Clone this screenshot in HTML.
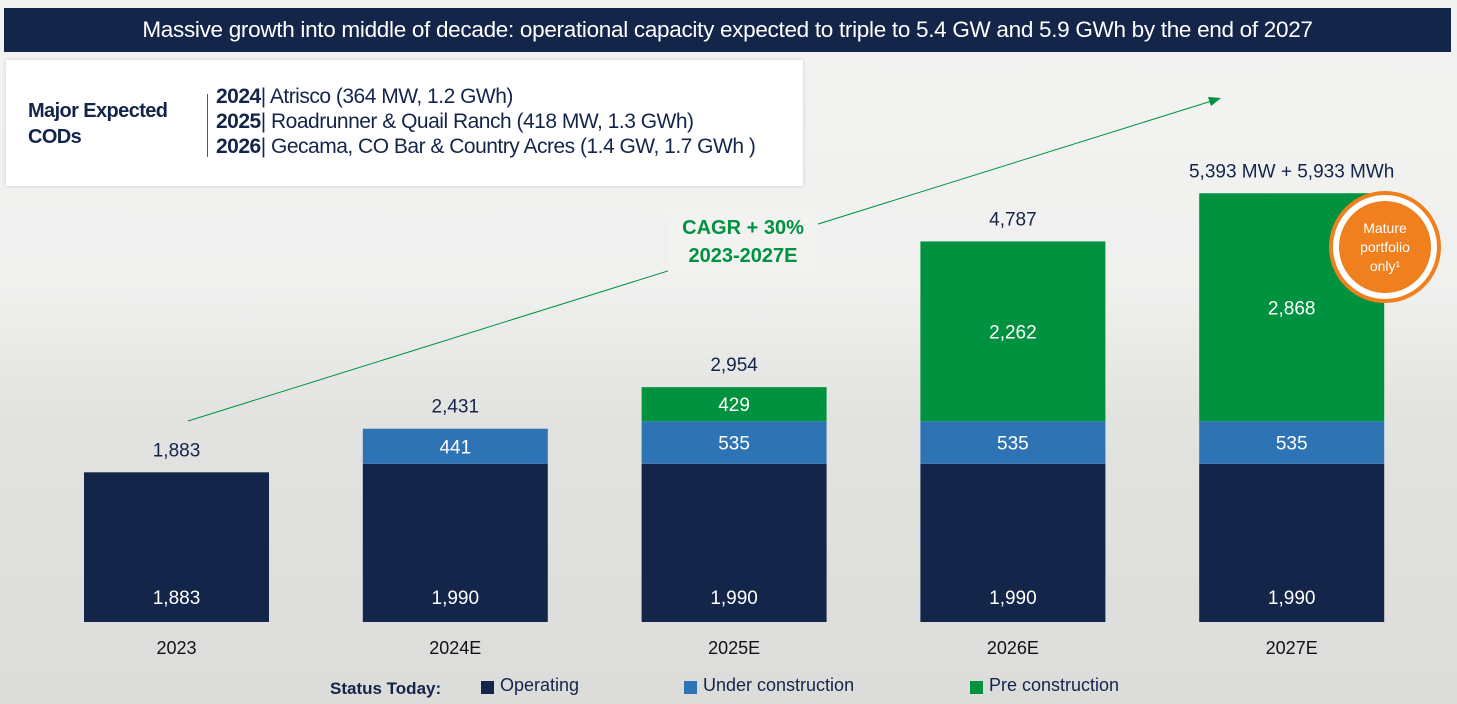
<!DOCTYPE html>
<html><head><meta charset="utf-8">
<style>
body{margin:0;width:1457px;height:704px;overflow:hidden;font-family:"Liberation Sans",sans-serif;}
#bg{position:absolute;left:0;top:0;width:1457px;height:704px;background:linear-gradient(180deg,#f3f3f2 0%,#f0f0ef 40%,#e2e2e0 60%,#dcdcda 100%);}
#title{position:absolute;left:4px;top:8px;width:1447px;height:44px;background:#14254a;color:#fff;font-size:22.5px;line-height:44px;text-align:center;letter-spacing:-0.3px;}
#cods{position:absolute;left:6px;top:60px;width:797px;height:126px;background:#fff;box-shadow:0 0 4px rgba(0,0,0,.15);color:#14254a;}
.t{position:absolute;white-space:nowrap;}
</style></head><body>
<div id="bg"></div>
<div id="title">Massive growth into middle of decade: operational capacity expected to triple to 5.4 GW and 5.9 GWh by the end of 2027</div>
<div id="cods">
 <div class="t" style="left:22px;top:38px;font-size:20px;font-weight:bold;line-height:26px;letter-spacing:-0.6px">Major Expected<br>CODs</div>
 <div style="position:absolute;left:201px;top:34px;width:1px;height:63px;background:#555"></div>
 <div class="t" style="left:210px;top:24px;font-size:21px;line-height:25px;letter-spacing:-0.5px">
  <b>2024</b>| Atrisco (364 MW, 1.2 GWh)<br><b>2025</b>| Roadrunner &amp; Quail Ranch (418 MW, 1.3 GWh)<br><b>2026</b>| Gecama, CO Bar &amp; Country Acres (1.4 GW, 1.7 GWh )</div>
</div>
<svg id="chart" width="1457" height="704" style="position:absolute;left:0;top:0"></svg>
<script>
const categories=["2023","2024E","2025E","2026E","2027E"];
const operating=[1883,1990,1990,1990,1990];
const underConstruction=[0,441,535,535,535];
const preConstruction=[0,0,429,2262,2868];
const totalLabels=["1,883","2,431","2,954","4,787","5,393 MW + 5,933 MWh"];
const colors={op:"#14254a",uc:"#2e74b5",pc:"#00923f"};
const NS="http://www.w3.org/2000/svg";
const svg=document.getElementById('chart');
const baseY=622,k=0.0795;
function y(v){return baseY-v*k;}
function xLeft(i){return 84+i*278.8;}
const bw=185;
function el(tag,attrs,parent){const e=document.createElementNS(NS,tag);for(const a in attrs)e.setAttribute(a,attrs[a]);(parent||svg).appendChild(e);return e;}
function fmt(v){return v.toLocaleString('en-US');}
const ar=el('line',{x1:188,y1:421,x2:1218,y2:99,stroke:"#00923f","stroke-width":1});


const ah=el('polygon',{points:"1221,98 1208,97 1211,106",fill:"#00923f"});


const cb=el('rect',{x:668,y:208,width:150,height:66,fill:"#f2f2f1"});


const ct=el('text',{x:743,y:234,"text-anchor":"middle","font-size":20,"font-weight":"bold",fill:"#00923f","font-family":"Liberation Sans, sans-serif"});


ct.innerHTML='<tspan x="743">CAGR + 30%</tspan><tspan x="743" dy="28">2023-2027E</tspan>';
categories.forEach((c,i)=>{
  const x=xLeft(i),cx=x+bw/2;
  let b=0;
  const segs=[[operating[i],colors.op,'operating'],[underConstruction[i],colors.uc,'under-construction'],[preConstruction[i],colors.pc,'pre-construction']];
  segs.forEach(([v,col,n])=>{
    if(!v)return;
    const r=el('rect',{x:x,y:y(b+v),width:bw,height:v*k,fill:col});
    
    
    const ly=n==='operating'?baseY-18:y(b+v/2)+7;
    const t=el('text',{x:cx,y:ly,"text-anchor":"middle","font-size":19,fill:"#fff"});
    
    
    t.textContent=fmt(v);
    b+=v;
  });
  const tot=el('text',{x:cx,y:y(b)-16,"text-anchor":"middle","font-size":19,fill:"#14254a"});
  
  
  tot.textContent=totalLabels[i];
  const xl=el('text',{x:cx,y:654,"text-anchor":"middle","font-size":18,fill:"#111"});
  
  
  xl.textContent=c;
});
const g=el('g',{});


el('circle',{cx:1385,cy:247,r:54,fill:"#fff",stroke:"#f07f1e","stroke-width":4},g);
el('circle',{cx:1385,cy:247,r:46,fill:"#f07f1e"},g);
const bt=el('text',{"text-anchor":"middle","font-size":14,fill:"#fff"},g);
bt.innerHTML='<tspan x="1385" y="233">Mature</tspan><tspan x="1385" y="252">portfolio</tspan><tspan x="1385" y="271">only¹</tspan>';
const lt=el('text',{x:330,y:694,"font-size":17,"font-weight":"bold",fill:"#14254a"});


lt.textContent='Status Today:';
[["Operating",colors.op,481],["Under construction",colors.uc,684],["Pre construction",colors.pc,970]].forEach(([n,col,lx])=>{
  const s=el('rect',{x:lx,y:681,width:13,height:13,fill:col});
  
  
  const t=el('text',{x:lx+19,y:691,"font-size":18,fill:"#14254a"});
  
  
  t.textContent=n;
});
</script>
</body></html>
